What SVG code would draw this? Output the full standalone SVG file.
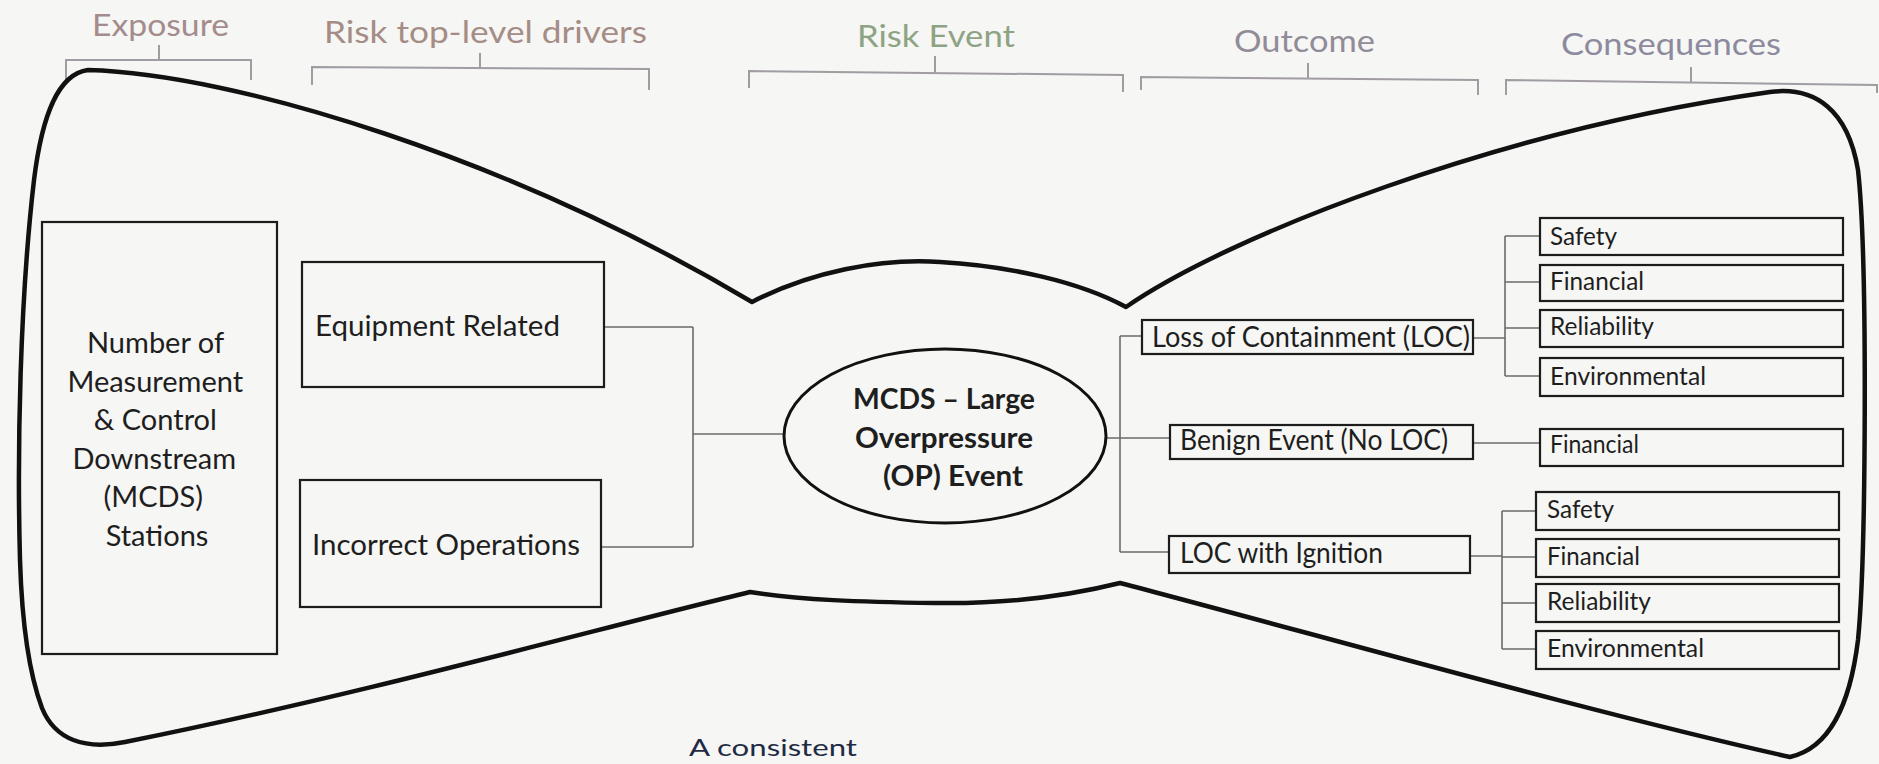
<svg xmlns="http://www.w3.org/2000/svg" width="1879" height="764" viewBox="0 0 1879 764">
  <style>
    .hdr { font-family: Lato, "Open Sans", "Liberation Sans", sans-serif; font-size: 30px; }
    .bracket { fill: none; stroke: #a19ca2; stroke-width: 2; }
    .box { fill: none; stroke: #1c1c1c; stroke-width: 2.2; }
    .lbl { font-family: Lato, "Open Sans", "Liberation Sans", sans-serif; font-size: 29px; fill: #1e1e1e; }
    .sm { font-family: Lato, "Open Sans", "Liberation Sans", sans-serif; font-size: 25px; fill: #1e1e1e; }
    .bold { font-weight: bold; }
    .wire { fill: none; stroke: #6e6a6a; stroke-width: 1.6; }
  </style>

  <rect width="1879" height="764" fill="#f6f6f4"/>

  <!-- column headings with their brackets -->
  <g id="headings">
    <text class="hdr" x="92" y="36" font-size="27" fill="#a48c8c" textLength="137" lengthAdjust="spacingAndGlyphs">Exposure</text>
    <text class="hdr" x="324" y="43" fill="#a58d86" textLength="323" lengthAdjust="spacingAndGlyphs">Risk top-level drivers</text>
    <text class="hdr" x="857" y="47" fill="#8ea384" textLength="158" lengthAdjust="spacingAndGlyphs">Risk Event</text>
    <text class="hdr" x="1234" y="52" fill="#928b98" textLength="141" lengthAdjust="spacingAndGlyphs">Outcome</text>
    <text class="hdr" x="1561" y="55" fill="#8d8a9e" textLength="220" lengthAdjust="spacingAndGlyphs">Consequences</text>

    <path class="bracket" d="M66,80 V60 H251 V80 M159,60 V45"/>
    <path class="bracket" d="M312,85 V67 L649,69 V90 M480,68 V53"/>
    <path class="bracket" d="M749,88 V71 L1123,75 V92 M935,73 V56"/>
    <path class="bracket" d="M1141,90 V77 L1478,80 V95 M1308,78 V63"/>
    <path class="bracket" d="M1506,95 V80 L1877,85 V93 M1691,82 V67"/>
  </g>

  <!-- bow-tie outline -->
  <path id="bowtie" fill="none" stroke="#111" stroke-width="4.5" stroke-linejoin="round"
        d="M752,302 C810,272 880,258 940,262 C1010,266 1080,282 1126,307
           C1230,235 1500,130 1770,92 C1815,86 1848,110 1858,170
           C1868,260 1866,560 1858,640 C1850,705 1830,748 1790,757
           C1600,715 1300,630 1120,583
           C1060,598 1000,604 935,603 C860,602 800,600 750,592
           C600,628 360,695 125,742
           C85,750 55,740 42,708 C30,676 22,625 20,560
           C17,450 20,300 34,180 C42,115 58,74 88,70
           C235,74 510,158 752,302 Z"/>

  <!-- connectors -->
  <g id="connectors">
    <path class="wire" d="M603,327 H693 M600,547 H693 M693,327 V547 M693,434 H784"/>
    <path class="wire" d="M1106,438 H1170 M1120,336 V552 M1120,336 H1142 M1120,552 H1169"/>
    <path class="wire" d="M1473,338 H1505 M1505,236 V376 M1505,236 H1540 M1505,282 H1540 M1505,328 H1540 M1505,376 H1540"/>
    <path class="wire" d="M1473,443 H1540"/>
    <path class="wire" d="M1470,556 H1502 M1502,511 V649 M1502,511 H1536 M1502,557 H1536 M1502,603 H1536 M1502,649 H1536"/>
  </g>

  <g id="exposure">
    <rect class="box" x="42" y="222" width="235" height="432"/>
    <text class="lbl" text-anchor="middle">
      <tspan x="159" y="353">Number of</tspan>
      <tspan x="159" y="392">Measurement</tspan>
      <tspan x="159" y="430">&amp; Control</tspan>
      <tspan x="158" y="469">Downstream</tspan>
      <tspan x="157" y="507">(MCDS)</tspan>
      <tspan x="157" y="546">Stations</tspan>
    </text>
  </g>

  <g id="equipment-related">
    <rect class="box" x="302" y="262" width="302" height="125"/>
    <text class="lbl" x="315" y="336" textLength="245" lengthAdjust="spacingAndGlyphs">Equipment Related</text>
  </g>

  <g id="incorrect-operations">
    <rect class="box" x="300" y="480" width="301" height="127"/>
    <text class="lbl" x="312" y="555" textLength="268" lengthAdjust="spacingAndGlyphs">Incorrect Operations</text>
  </g>

  <g id="op-event">
    <ellipse cx="945" cy="436" rx="161" ry="87" fill="none" stroke="#111" stroke-width="3"/>
    <text class="lbl bold" x="853" y="409" textLength="182" lengthAdjust="spacingAndGlyphs">MCDS – Large</text>
    <text class="lbl bold" x="855" y="448" textLength="178" lengthAdjust="spacingAndGlyphs">Overpressure</text>
    <text class="lbl bold" x="883" y="486" textLength="140" lengthAdjust="spacingAndGlyphs">(OP) Event</text>
  </g>

  <g id="loc">
    <rect class="box" x="1142" y="320" width="331" height="34"/>
    <text class="lbl" x="1152" y="347" textLength="318" lengthAdjust="spacingAndGlyphs">Loss of Containment (LOC)</text>
  </g>

  <g id="benign">
    <rect class="box" x="1170" y="425" width="303" height="34"/>
    <text class="lbl" x="1180" y="450" textLength="268" lengthAdjust="spacingAndGlyphs">Benign Event (No LOC)</text>
  </g>

  <g id="loc-ignition">
    <rect class="box" x="1169" y="536" width="301" height="37"/>
    <text class="lbl" x="1180" y="563" textLength="203" lengthAdjust="spacingAndGlyphs">LOC with Ignition</text>
  </g>

  <g id="loc-safety">
    <rect class="box" x="1540" y="218" width="303" height="37"/>
    <text class="sm" x="1550" y="245" textLength="67" lengthAdjust="spacingAndGlyphs">Safety</text>
  </g>
  <g id="loc-financial">
    <rect class="box" x="1540" y="265" width="303" height="36"/>
    <text class="sm" x="1550" y="290" textLength="94" lengthAdjust="spacingAndGlyphs">Financial</text>
  </g>
  <g id="loc-reliability">
    <rect class="box" x="1540" y="310" width="303" height="37"/>
    <text class="sm" x="1550" y="335" textLength="104" lengthAdjust="spacingAndGlyphs">Reliability</text>
  </g>
  <g id="loc-environmental">
    <rect class="box" x="1540" y="358" width="303" height="38"/>
    <text class="sm" x="1550" y="385" textLength="156" lengthAdjust="spacingAndGlyphs">Environmental</text>
  </g>

  <g id="benign-financial">
    <rect class="box" x="1540" y="429" width="303" height="37"/>
    <text class="sm" x="1550" y="453" textLength="89" lengthAdjust="spacingAndGlyphs">Financial</text>
  </g>

  <g id="ign-safety">
    <rect class="box" x="1536" y="492" width="303" height="38"/>
    <text class="sm" x="1547" y="518" textLength="67" lengthAdjust="spacingAndGlyphs">Safety</text>
  </g>
  <g id="ign-financial">
    <rect class="box" x="1536" y="539" width="303" height="38"/>
    <text class="sm" x="1547" y="565" textLength="93" lengthAdjust="spacingAndGlyphs">Financial</text>
  </g>
  <g id="ign-reliability">
    <rect class="box" x="1536" y="584" width="303" height="38"/>
    <text class="sm" x="1547" y="610" textLength="104" lengthAdjust="spacingAndGlyphs">Reliability</text>
  </g>
  <g id="ign-environmental">
    <rect class="box" x="1536" y="631" width="303" height="38"/>
    <text class="sm" x="1547" y="657" textLength="157" lengthAdjust="spacingAndGlyphs">Environmental</text>
  </g>

  <!-- running text below the figure -->
  <text x="689" y="756" font-family="Lato, 'Open Sans', 'Liberation Sans', sans-serif" font-size="24" fill="#1f2a44" textLength="168" lengthAdjust="spacingAndGlyphs">A consistent</text>
</svg>
